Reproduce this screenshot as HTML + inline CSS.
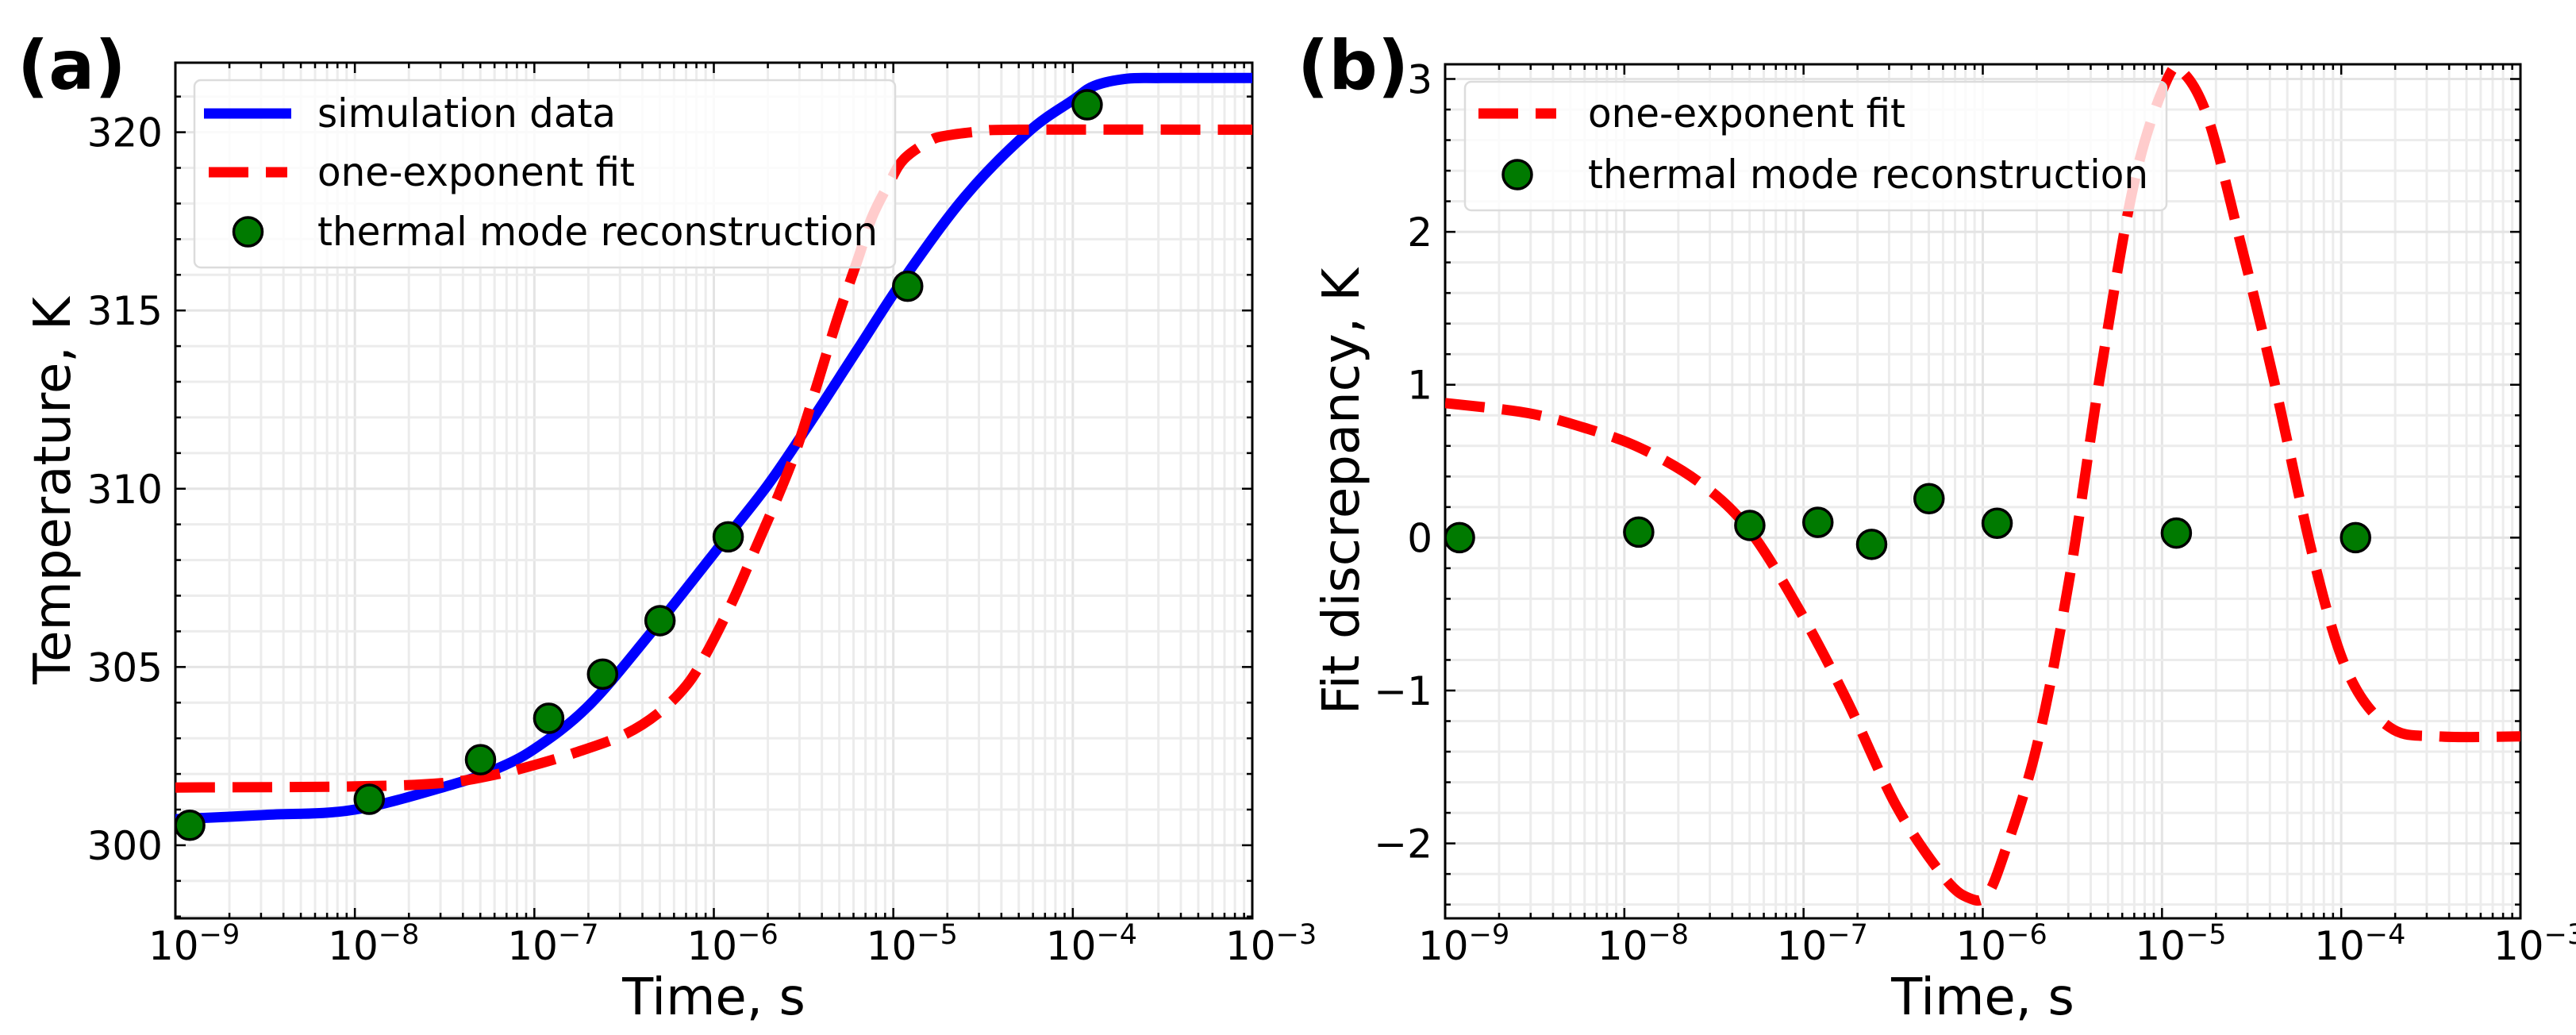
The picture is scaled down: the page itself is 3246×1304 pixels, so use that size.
<!DOCTYPE html>
<html><head><meta charset="utf-8"><style>
html,body{margin:0;padding:0;background:#fff}
svg{display:block}
text{font-family:"DejaVu Sans","Liberation Sans",sans-serif;fill:#000}
</style></head><body>
<svg id="fig" width="3246" height="1304" viewBox="0 0 3246 1304" xmlns="http://www.w3.org/2000/svg">
<g id="pa"></g>
<g id="pb"></g>
</svg>
<script>
// ---- data (log10 time) ----
const xTickExps = [-9,-8,-7,-6,-5,-4,-3];
const aYTicks = [300,305,310,315,320];
const bYTicks = [-2,-1,0,1,2,3];
const simX = [-9,-8.5,-8,-7.46,-7.23,-7,-6.7,-6.36,-5.95,-5.7,-5.49,-5.2,-4.94,-4.6,-4.25,-4.0,-3.88,-3.7,-3.5,-3];
const simY = [300.73,300.85,301.0,301.7,302.1,302.7,303.9,305.9,308.5,310.1,311.65,313.9,315.9,318.2,320.0,320.9,321.3,321.5,321.52,321.52];
const fitX = [-9,-8,-7.5,-7.2,-7.0,-6.77,-6.5,-6.31,-6.15,-6.04,-5.9,-5.77,-5.65,-5.54,-5.42,-5.31,-5.2,-5.12,-5.02,-4.94,-4.8,-4.71,-4.5,-4.3,-3];
const fitY = [301.62,301.65,301.75,302.0,302.25,302.6,303.1,303.7,304.5,305.4,306.8,308.3,309.7,311.1,313.0,314.8,316.4,317.6,318.6,319.25,319.75,319.9,320.03,320.07,320.07];
const ptX = [-8.92,-7.92,-7.30,-6.92,-6.62,-6.30,-5.92,-4.92,-3.92];
const ptY = [300.56,301.29,302.4,303.56,304.8,306.3,308.65,315.68,320.77];
const difX = [-9,-8.54,-8.2,-7.9,-7.58,-7.31,-7.03,-6.76,-6.48,-6.21,-6.07,-5.98,-5.89,-5.70,-5.52,-5.34,-5.15,-4.97,-4.88,-4.74,-4.56,-4.38,-4.15,-3.96,-3.73,-3.46,-3];
const difY = [0.88,0.815,0.71,0.58,0.36,0.06,-0.46,-1.06,-1.76,-2.23,-2.36,-2.34,-2.10,-1.37,-0.29,1.1,2.35,3.0,3.04,2.73,1.92,1.05,-0.16,-0.89,-1.24,-1.30,-1.30];
const difPtY = [0,0.036,0.08,0.10,-0.044,0.255,0.094,0.03,0];

const NS="http://www.w3.org/2000/svg";
function mk(parent,tag,attrs,txt){const e=document.createElementNS(NS,tag);for(const k in attrs)e.setAttribute(k,attrs[k]);if(txt!==undefined)e.textContent=txt;parent.appendChild(e);return e;}

function panel(g,cfg){
  const L=cfg.L,R=cfg.R,T=cfg.T,B=cfg.B;
  const sx=v=>L+(v-(-9))/6*(R-L);
  const sy=v=>B-(v-cfg.ymin)/(cfg.ymax-cfg.ymin)*(B-T);
  const grid=mk(g,'g',{});
  
  
  for(let d=-9;d<-3;d++){
    for(let m=1;m<10;m++){
      const x=sx(d+Math.log10(m));
      if(m>1||d>-9) mk(grid,'line',{x1:x,x2:x,y1:T,y2:B,stroke:m==1?'#e4e4e4':'#ececec','stroke-width':3});
      const len=m==1?13:7;
      mk(g,'line',{x1:x,x2:x,y1:B,y2:B-len,stroke:'#000','stroke-width':2.5});
      mk(g,'line',{x1:x,x2:x,y1:T,y2:T+len,stroke:'#000','stroke-width':2.5});
    }
  }
  for(let v=cfg.ymin0;v<=cfg.ymax+1e-9;v+=cfg.minor){
    const y=sy(v); if(y<T||y>B) continue;
    const major=Math.abs((v-cfg.yt[0])/cfg.major-Math.round((v-cfg.yt[0])/cfg.major))<1e-6;
    mk(grid,'line',{x1:L,x2:R,y1:y,y2:y,stroke:major?'#e4e4e4':'#ececec','stroke-width':3});
    const len=major?13:7;
    mk(g,'line',{x1:L,x2:L+len,y1:y,y2:y,stroke:'#000','stroke-width':2.5});
    mk(g,'line',{x1:R,x2:R-len,y1:y,y2:y,stroke:'#000','stroke-width':2.5});
  }
  xTickExps.forEach(e=>{
    const x=sx(e);
    const t=mk(g,'text',{x:x-34,y:B+52,'font-size':50});
    
    
    mk(t,'tspan',{},'10');
    mk(t,'tspan',{dy:-20,'font-size':35},'\u2212'+(-e));
  });
  cfg.yt.forEach(v=>{
    const t=mk(g,'text',{x:L-16,y:sy(v)+18,'font-size':50,'text-anchor':'end'},String(v).replace('-','\u2212'));
    
    
  });
  const fr=mk(g,'rect',{x:L,y:T,width:R-L,height:B-T,fill:'none',stroke:'#000','stroke-width':3});
  
  
  const xt=mk(g,'text',{x:(L+R)/2,y:1278,'font-size':64,'text-anchor':'middle'},'Time, s');
  
  
  const yt=mk(g,'text',{x:0,y:0,'font-size':64,'text-anchor':'middle',transform:`translate(${cfg.ytx},${(T+B)/2}) rotate(-90)`},cfg.ytitle);
  
  
  const pl=mk(g,'text',{x:cfg.plx,y:112,'font-size':86,'font-weight':'bold','font-family':'Liberation Sans'},cfg.plabel);
  
  
  mk(g,'defs',{}).innerHTML=`<clipPath id="clip${cfg.id}"><rect x="${L}" y="${T}" width="${R-L}" height="${B-T}"/></clipPath>`;
  const data=mk(g,'g',{'clip-path':`url(#clip${cfg.id})`});
  return {sx,sy,data};
}
function path(g,xs,ys,ax,attrs,name){
  const P=xs.map((x,i)=>[ax.sx(x),ax.sy(ys[i])]);
  let d='M'+P[0][0].toFixed(1)+','+P[0][1].toFixed(1);
  for(let i=0;i<P.length-1;i++){
    const p0=P[Math.max(0,i-1)],p1=P[i],p2=P[i+1],p3=P[Math.min(P.length-1,i+2)];
    const c1=[p1[0]+(p2[0]-p0[0])/6,p1[1]+(p2[1]-p0[1])/6];
    const c2=[p2[0]-(p3[0]-p1[0])/6,p2[1]-(p3[1]-p1[1])/6];
    d+='C'+c1.map(v=>v.toFixed(1)).join(',')+' '+c2.map(v=>v.toFixed(1)).join(',')+' '+p2.map(v=>v.toFixed(1)).join(',');
  }
  const p=mk(g,'path',Object.assign({d,fill:'none','stroke-linejoin':'round'},attrs));
  
  
}
function pts(g,xs,ys,ax){
  xs.forEach((x,i)=>{
    const c=mk(g,'circle',{cx:ax.sx(x),cy:ax.sy(ys[i]),r:18,fill:'#007a00',stroke:'#000','stroke-width':3.5});
    
    
  });
}
function legend(g,x,y,w,h,rows){
  const lg=mk(g,'g',{});
  
  
  mk(lg,'rect',{x,y,width:w,height:h,rx:8,fill:'rgba(255,255,255,0.8)',stroke:'#dcdcdc','stroke-width':2.5});
  rows.forEach(r=>{
    const e=mk(lg,'g',{});
    
    
    if(r.type=='line') mk(e,'line',{x1:r.x1,x2:r.x2,y1:r.y,y2:r.y,stroke:'#0000ff','stroke-width':13});
    if(r.type=='dash') mk(e,'line',{x1:r.x1,x2:r.x2,y1:r.y,y2:r.y,stroke:'#ff0000','stroke-width':13,'stroke-dasharray':'50 22'});
    if(r.type=='dot') mk(e,'circle',{cx:(r.x1+r.x2)/2,cy:r.y,r:18,fill:'#007a00',stroke:'#000','stroke-width':3.5});
    mk(e,'text',{x:r.tx,y:r.y+17,'font-size':50,textLength:r.tw,lengthAdjust:'spacingAndGlyphs'},r.text);
  });
}
const ga=document.getElementById('pa');
const A=panel(ga,{id:'a',L:221,R:1578,T:79,B:1157,ymin:297.95,ymax:321.95,ymin0:298,minor:1,major:5,yt:aYTicks,ytx:88,ytitle:'Temperature, K',plx:22,plabel:'(a)'});
path(A.data,simX,simY,A,{stroke:'#0000ff','stroke-width':13},'simulation-line');
path(A.data,fitX,fitY,A,{stroke:'#ff0000','stroke-width':13,'stroke-dasharray':'50 22'},'fit-line');
pts(A.data,ptX,ptY,A);
legend(ga,245,101,883,236,[
  {type:'line',x1:257,x2:367,y:143,tx:400,tw:376,text:'simulation data'},
  {type:'dash',x1:263,x2:362,y:217,tx:400,tw:400,text:'one-exponent fit'},
  {type:'dot',x1:263,x2:362,y:292,tx:400,tw:706,text:'thermal mode reconstruction'}]);
const gb=document.getElementById('pb');
const Bx=panel(gb,{id:'b',L:1821,R:3176,T:81,B:1157,ymin:-2.49,ymax:3.096,ymin0:-2.4,minor:0.2,major:1,yt:bYTicks,ytx:1712,ytitle:'Fit discrepancy, K',plx:1635,plabel:'(b)'});
path(Bx.data,difX,difY,Bx,{stroke:'#ff0000','stroke-width':13,'stroke-dasharray':'50 22'},'fit-discrepancy-line');
pts(Bx.data,ptX,difPtY,Bx);
legend(gb,1846,103,884,162,[
  {type:'dash',x1:1863,x2:1961,y:143,tx:2001,tw:400,text:'one-exponent fit'},
  {type:'dot',x1:1863,x2:1961,y:220,tx:2001,tw:706,text:'thermal mode reconstruction'}]);
</script>
</body></html>
